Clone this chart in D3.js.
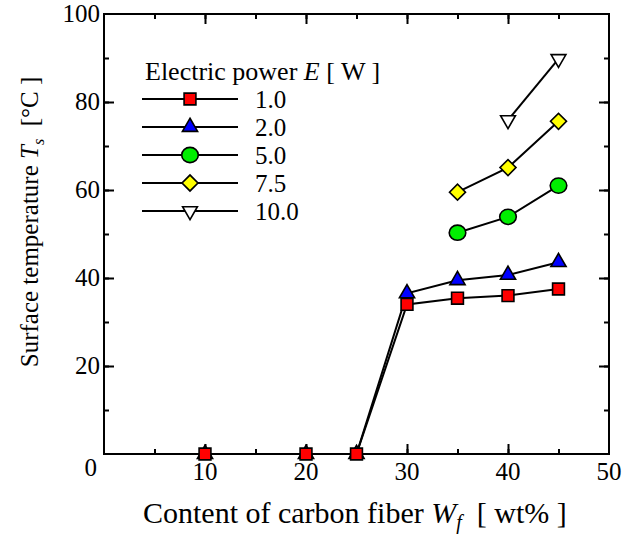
<!DOCTYPE html>
<html>
<head>
<meta charset="utf-8">
<script src="https://cdn.jsdelivr.net/npm/d3@7"></script>
<style>
  body { margin: 0; background: #fff; }
  text { font-family: "Liberation Serif", "Times New Roman", serif; fill: #000; }
</style>
</head>
<body>
<div id="chart"></div>
<script>
// Data
const fiberContent = [10, 20, 25, 30, 35, 40, 45];
const tempE1 = [0, 0, 0, 34.0, 35.4, 36.0, 37.5];
const tempE2 = [0, 0, 0, 36.5, 39.5, 40.7, 43.6];
const fiberHigh = [35, 40, 45];
const tempE5 = [50.3, 53.9, 61.0];
const tempE75 = [59.5, 65.1, 75.6];
const fiberTop = [40, 45];
const tempE10 = [75.9, 89.8];
const powerLabels = ["1.0", "2.0", "5.0", "7.5", "10.0"];
const xTicks = [10, 20, 30, 40, 50];
const yTicks = [0, 20, 40, 60, 80, 100];

const W = 625, H = 535;
const margin = { top: 14, right: 16, bottom: 81, left: 104 };
const width = W - margin.left - margin.right,
    height = H - margin.top - margin.bottom;

const svg = d3.select("#chart").append("svg")
    .attr("width", W).attr("height", H);
const g = svg.append("g")
    .attr("transform", `translate(${margin.left},${margin.top})`);

const x = d3.scaleLinear().domain([0, 50]).range([0, width]);
const y = d3.scaleLinear().domain([0, 100]).range([height, 0]);

// series config (drawn in this order: blue under red)
const series = [
    { label: powerLabels[1], xs: fiberContent, ys: tempE2, shape: "tri", fill: "#0000ff" },
    { label: powerLabels[0], xs: fiberContent, ys: tempE1, shape: "square", fill: "#ff0000" },
    { label: powerLabels[2], xs: fiberHigh, ys: tempE5, shape: "circle", fill: "#00ee00" },
    { label: powerLabels[3], xs: fiberHigh, ys: tempE75, shape: "diamond", fill: "#ffff00" },
    { label: powerLabels[4], xs: fiberTop, ys: tempE10, shape: "down", fill: "#ffffff" }
];

function marker(sel, shape, fill) {
    if (shape === "circle") {
        sel.append("ellipse").attr("rx", 8.3).attr("ry", 7.6);
    } else if (shape === "square") {
        sel.append("path").attr("d", d3.symbol(d3.symbolSquare, 140)());
    } else if (shape === "diamond") {
        sel.append("path").attr("d", d3.symbol(d3.symbolSquare, 128)())
            .attr("transform", "rotate(45)");
    } else if (shape === "tri") {
        sel.append("path").attr("d", d3.symbol(d3.symbolTriangle, 100)());
    } else {
        sel.append("path").attr("d", d3.symbol(d3.symbolTriangle, 95)())
            .attr("transform", "rotate(180)");
    }
    sel.selectAll("path,ellipse")
        .attr("fill", fill).attr("stroke", "#000").attr("stroke-width", 1.6);
}

// axes frame with inward ticks
function ticksAxis(axisFn, scale, vals, size) {
    return axisFn(scale).tickValues(vals).tickSize(size).tickFormat("");
}
const xMinor = d3.range(5, 50, 5), yMinor = d3.range(10, 100, 10);

const axes = [
    { fn: d3.axisTop, s: x, t: `translate(0,${height})` },
    { fn: d3.axisBottom, s: x, t: "translate(0,0)" },
    { fn: d3.axisRight, s: y, t: "translate(0,0)" },
    { fn: d3.axisLeft, s: y, t: `translate(${width},0)` }
];
axes.forEach(a => {
    const isX = a.s === x;
    const minor = g.append("g").attr("transform", a.t)
        .call(ticksAxis(a.fn, a.s, isX ? xMinor : yMinor, 5));
    const major = g.append("g").attr("transform", a.t)
        .call(ticksAxis(a.fn, a.s, isX ? xTicks.slice(0, 4) : yTicks.slice(1, 5), 10));
    [minor, major].forEach(ax => {
        ax.select(".domain").remove();
        ax.selectAll("line").attr("stroke", "#000").attr("stroke-width", 2);
    });
});
g.append("rect")
    .attr("width", width).attr("height", height)
    .attr("fill", "none").attr("stroke", "#000").attr("stroke-width", 2);

// tick labels
g.append("g").selectAll("text").data(xTicks).join("text")
    .attr("x", d => x(d)).attr("y", height + 26)
    .attr("text-anchor", "middle").style("font-size", "25px")
    .text(d => d);
g.append("g").selectAll("text").data(yTicks).join("text")
    .attr("x", d => d === 0 ? -7 : -4)
    .attr("y", d => y(d) + (d === 0 ? 22 : 8))
    .attr("text-anchor", "end").style("font-size", "25px")
    .text(d => d);

// axis titles
const xt = svg.append("text")
    .attr("x", 143).attr("y", 523)
    .style("font-size", "30px");
xt.append("tspan").text("Content of carbon fiber ");
xt.append("tspan").style("font-style", "italic").text("W");
xt.append("tspan").style("font-style", "italic").style("font-size", "20px")
    .attr("dy", 6).text("f");
xt.append("tspan").attr("dy", -6).attr("xml:space", "preserve")
    .style("white-space", "pre").text("  [ wt% ]");

const yt = svg.append("text")
    .attr("transform", `translate(38,${222}) rotate(-90)`)
    .attr("text-anchor", "middle").style("font-size", "25px");
yt.append("tspan").text("Surface temperature ");
yt.append("tspan").style("font-style", "italic").text("T");
yt.append("tspan").style("font-style", "italic").style("font-size", "16px")
    .attr("dy", 6).text("s");
yt.append("tspan").attr("dy", -6).style("white-space", "pre").text("  [°C ]");

// lines and markers
const line = d3.line().x(d => x(d[0])).y(d => y(d[1]));
series.forEach(s => {
    const pts = s.xs.map((v, i) => [v, s.ys[i]]);
    g.append("path").datum(pts)
        .attr("d", line).attr("fill", "none")
        .attr("stroke", "#000").attr("stroke-width", 2);
});
series.forEach(s => {
    const pts = s.xs.map((v, i) => [v, s.ys[i]]);
    g.selectAll(null).data(pts).join("g")
        .attr("transform", d => `translate(${x(d[0])},${y(d[1])})`)
        .each(function() { marker(d3.select(this), s.shape, s.fill); });
});

// legend
const legend = svg.append("g").attr("transform", "translate(142,0)");
const lt = legend.append("text").attr("x", 3).attr("y", 80)
    .style("font-size", "26px");
lt.append("tspan").text("Electric power ");
lt.append("tspan").style("font-style", "italic").text("E");
lt.append("tspan").text(" [ W ]");

const legendOrder = [1, 0, 2, 3, 4];
const rowY = d3.scaleLinear().domain([0, 4]).range([99, 211]);
legendOrder.forEach((si, i) => {
    const s = series[si];
    const row = legend.append("g").attr("transform", `translate(0,${rowY(i)})`);
    row.append("line").attr("x1", 0).attr("x2", 96)
        .attr("stroke", "#000").attr("stroke-width", 2);
    marker(row.append("g").attr("transform", "translate(48,0)"), s.shape, s.fill);
    row.append("text").attr("x", 113).attr("y", 9)
        .style("font-size", "25px").text(s.label);
});
</script>
</body>
</html>
